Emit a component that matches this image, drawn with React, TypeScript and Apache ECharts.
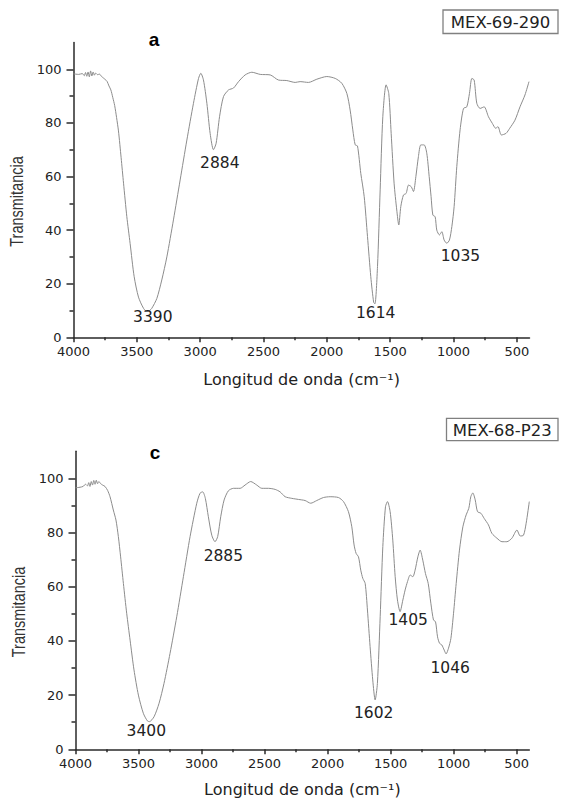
import React, { useEffect, useRef } from "react";
import * as echarts from "echarts";

// ---- data (wavenumber cm-1, transmittance %) ----
const SPECTRUM_A: [number, number][] = [
  [4000, 98.3], [3960, 98.1], [3930, 98.4], [3915, 97.6], [3905, 98.8], [3895, 97.4], [3885, 99.0],
  [3875, 97.2], [3865, 99.4], [3855, 97.5], [3845, 99.0], [3835, 97.8], [3825, 98.6], [3810, 98.0],
  [3795, 98.2], [3780, 97.4], [3765, 96.8], [3750, 96.2], [3735, 95.5], [3720, 93.8], [3705, 92.3],
  [3690, 89.5], [3675, 86.5], [3660, 82.0], [3645, 77.0], [3624, 67], [3605, 57.5], [3579, 45],
  [3553, 35], [3521, 22.6], [3487, 15], [3447, 10.8], [3420, 9.6], [3400, 10.0], [3382, 10.8],
  [3342, 14.5], [3303, 21.4], [3263, 30], [3211, 43.8], [3158, 58.7], [3105, 73.6], [3053, 87.3],
  [3013, 96.6], [2995, 98.5], [2974, 96], [2947, 87.3], [2921, 76], [2895, 70], [2874, 72.4],
  [2847, 82.3], [2816, 89.8], [2776, 92.3], [2737, 93], [2697, 95.4], [2645, 97.9], [2592, 98.9],
  [2526, 98.1], [2447, 97.9], [2382, 96], [2316, 95.8], [2250, 95.1], [2211, 95.4], [2145, 95.1],
  [2079, 96.3], [2000, 97.3], [1934, 96.6], [1882, 94.8], [1842, 91], [1816, 84.8], [1795, 77.4],
  [1776, 71.8], [1758, 71.4], [1732, 61.2], [1705, 52.5], [1679, 37.6], [1653, 22.6], [1630, 13.0],
  [1620, 12.5], [1600, 26.4], [1579, 55], [1558, 82.3], [1532, 94.2], [1511, 91], [1492, 76],
  [1469, 57.5], [1448, 47.5], [1432, 41.9], [1416, 48.8], [1395, 53.1], [1374, 53.7], [1355, 56.8],
  [1334, 56.2], [1316, 54.4], [1297, 60], [1277, 67.4], [1258, 71.8], [1232, 71.8], [1211, 68.7],
  [1192, 60], [1177, 52.5], [1163, 45.6], [1145, 45], [1132, 40], [1111, 38.2], [1092, 39.4],
  [1074, 36.3], [1053, 35.1], [1032, 36.3], [1013, 41.3], [995, 48.8], [974, 63.7], [948, 77.4],
  [921, 85.4], [895, 86], [874, 91], [855, 96.6], [837, 96], [816, 87.3], [790, 85.4], [758, 86],
  [724, 82.3], [693, 79.8], [667, 78], [649, 78.6], [622, 75.5], [585, 76.1], [556, 78], [515, 81],
  [475, 86], [436, 90.4], [404, 95.4],
];

const SPECTRUM_C: [number, number][] = [
  [4000, 96.5], [3964, 96.7], [3940, 97.0], [3920, 97.8], [3905, 97.2], [3895, 98.4], [3885, 97.0],
  [3875, 98.8], [3865, 97.5], [3855, 99.2], [3845, 97.8], [3835, 99.3], [3825, 98.0], [3815, 98.8],
  [3800, 98.0], [3785, 97.5], [3766, 97], [3745, 95.5], [3726, 93.2], [3700, 88.3], [3679, 84.6],
  [3660, 78.5], [3642, 71], [3620, 61.2], [3594, 50.2], [3567, 40.3], [3536, 29.3], [3501, 20],
  [3462, 13.3], [3430, 10.5], [3414, 10.2], [3377, 12], [3337, 17], [3298, 24.3], [3250, 35.4],
  [3197, 48.9], [3144, 63.7], [3091, 78.5], [3038, 90.8], [3012, 94.5], [2991, 95], [2970, 92.6],
  [2946, 85.8], [2919, 79], [2893, 76.6], [2872, 78.5], [2848, 85.8], [2821, 92], [2787, 95.4],
  [2747, 96.3], [2694, 96.3], [2655, 97.5], [2610, 98.8], [2562, 97.5], [2522, 96.3], [2469, 96.3],
  [2416, 95.9], [2377, 95], [2337, 93.2], [2284, 92.6], [2231, 92.2], [2179, 91.8], [2134, 90.8],
  [2086, 91.8], [2033, 92.9], [1980, 93.2], [1914, 92.9], [1874, 91.4], [1835, 87.7], [1808, 82.1],
  [1790, 75.4], [1774, 72.3], [1755, 71], [1737, 66.1], [1721, 63.1], [1702, 61.2], [1684, 51.4],
  [1663, 37.9], [1642, 25.6], [1623, 18.2], [1605, 24.3], [1583, 48.9], [1562, 74.8], [1541, 89.5],
  [1525, 91.4], [1504, 87.7], [1483, 77.2], [1464, 63.7], [1446, 55.1], [1425, 50.8], [1403, 55.1],
  [1385, 58.8], [1366, 61.9], [1345, 64.3], [1324, 63.7], [1306, 66.1], [1284, 71], [1266, 73.5],
  [1245, 69.8], [1224, 64.9], [1202, 61.2], [1181, 53.9], [1160, 47.7], [1144, 47.1], [1128, 41.5],
  [1112, 39.1], [1094, 38.5], [1075, 36.6], [1060, 35.2], [1041, 37.3], [1022, 40.9], [1001, 50.2],
  [980, 61.2], [954, 73.5], [927, 82.1], [901, 86.5], [880, 88.9], [864, 93.2], [848, 94.6],
  [829, 92], [811, 87.7], [784, 87.1], [758, 85.2], [724, 82.8], [697, 79.7], [657, 77.9],
  [617, 76.6], [578, 76.6], [538, 77.9], [498, 80.9], [472, 78.7], [446, 79], [425, 83.4], [400, 91.4],
];

const PEAK_LABELS_A = ["3390", "2884", "1614", "1035"];
const PEAK_AT_A: [number, number][] = [[3374, 7.6], [2845, 65], [1614, 9.25], [945, 30.4]];
const PEAK_LABELS_C = ["3400", "2885", "1602", "1405", "1046"];
const PEAK_AT_C: [number, number][] = [[3438, 6.8], [2827, 71.4], [1635, 13.4], [1361, 47.7], [1028, 30]];

const X_MAJOR = [4000, 3500, 3000, 2500, 2000, 1500, 1000, 500];
const X_MINOR = [3750, 3250, 2750, 2250, 1750, 1250, 750];
const Y_MAJOR = [0, 20, 40, 60, 80, 100];
const Y_MINOR = [10, 30, 50, 70, 90];

const SAMPLE_A = "MEX-69-290";
const SAMPLE_C = "MEX-68-P23";
const PANEL_A = "a";
const PANEL_C = "c";
const X_TITLE = "Longitud de onda (cm\u207B\u00B9)";
const Y_TITLE = "Transmitancia";

const AX = "#2a2a2a";
const TICK_FONT = { fontFamily: "DejaVu Sans", fontSize: 13, color: "#222", formatter: (v: number) => String(v) };

function xAxes(grid: number) {
  const base = {
    gridIndex: grid, type: "value" as const, position: "bottom" as const, offset: 0,
    min: 400, max: 4000, inverse: true, splitLine: { show: false },
  };
  return [
    {
      ...base,
      axisLine: { show: true, onZero: false, lineStyle: { color: AX, width: 1.5 } },
      axisTick: { show: true, customValues: X_MAJOR, length: 5, lineStyle: { color: AX, width: 1.5 } },
      axisLabel: { show: true, customValues: X_MAJOR, margin: 8, ...TICK_FONT },
    },
    {
      ...base,
      axisLine: { show: false, onZero: false },
      axisTick: { show: true, customValues: X_MINOR, length: 3, lineStyle: { color: AX, width: 1.5 } },
      axisLabel: { show: false },
    },
  ];
}

function yAxes(grid: number) {
  const base = {
    gridIndex: grid, type: "value" as const, position: "left" as const, offset: 0,
    min: 0, max: 110, interval: 20, splitLine: { show: false },
  };
  return [
    {
      ...base,
      axisLine: { show: true, onZero: false, lineStyle: { color: AX, width: 1.5 } },
      axisTick: { show: true, customValues: Y_MAJOR, length: 7, lineStyle: { color: AX, width: 1.5 } },
      axisLabel: { show: true, customValues: Y_MAJOR, margin: 12, ...TICK_FONT },
    },
    {
      ...base,
      axisLine: { show: false, onZero: false },
      axisTick: { show: true, customValues: Y_MINOR, length: 4, lineStyle: { color: AX, width: 1.5 } },
      axisLabel: { show: false },
    },
  ];
}

function spectrumSeries(data: [number, number][], axis: number, labels: string[], at: [number, number][]) {
  return {
    type: "line",
    xAxisIndex: axis,
    yAxisIndex: axis,
    data,
    showSymbol: false,
    smooth: 0.25,
    lineStyle: { color: "#8c8c8c", width: 1 },
    markPoint: {
      symbol: "circle",
      symbolSize: 1,
      itemStyle: { color: "rgba(0,0,0,0)" },
      label: { show: true, position: "inside", formatter: "{b}", fontFamily: "DejaVu Sans", fontSize: 15.5, color: "#222" },
      data: labels.map((name, i) => ({ name, coord: at[i] })),
    },
  };
}

function boxedLabel(x: number, y: number, w: number, h: number, text: string) {
  return [
    { type: "rect", shape: { x, y, width: w, height: h }, style: { fill: "#fff", stroke: "#808080", lineWidth: 1.3 } },
    {
      type: "text", x: x + w / 2, y: y + h / 2 + 0.5,
      style: { text, fontFamily: "DejaVu Sans", fontSize: 16.5, fill: "#222", align: "center", verticalAlign: "middle" },
    },
  ];
}

function txt(x: number, y: number, text: string, extra: any = {}, style: any = {}) {
  return {
    type: "text", x, y, ...extra,
    style: { text, align: "center", verticalAlign: "middle", fill: "#222", ...style },
  };
}

export default function App() {
  const ref = useRef<HTMLDivElement>(null);
  useEffect(() => {
    document.body.style.margin = "0";
    const chart = echarts.init(ref.current!, null, { renderer: "svg" });
    chart.setOption({
      animation: false,
      backgroundColor: "#fff",
      grid: [
        { left: 73.5, right: 31.5, top: 42.5, height: 294.8 },
        { left: 75.5, right: 31.7, top: 451.2, height: 298.1 },
      ],
      xAxis: [...xAxes(0), ...xAxes(1)],
      yAxis: [...yAxes(0), ...yAxes(1)],
      series: [
        spectrumSeries(SPECTRUM_A, 0, PEAK_LABELS_A, PEAK_AT_A),
        spectrumSeries(SPECTRUM_C, 2, PEAK_LABELS_C, PEAK_AT_C),
      ],
      graphic: [
        ...boxedLabel(443, 10, 115, 23.5, SAMPLE_A),
        ...boxedLabel(446.5, 418.3, 111.5, 22.4, SAMPLE_C),
        txt(154, 39, PANEL_A, {}, { fontFamily: "Liberation Sans", fontWeight: "bold", fontSize: 19, fill: "#000" }),
        txt(155, 452, PANEL_C, {}, { fontFamily: "Liberation Sans", fontWeight: "bold", fontSize: 19, fill: "#000" }),
        txt(301.6, 379.5, X_TITLE, {}, { fontFamily: "DejaVu Sans", fontSize: 16 }),
        txt(302.4, 789, X_TITLE, {}, { fontFamily: "DejaVu Sans", fontSize: 16 }),
        txt(17, 201.5, Y_TITLE, { rotation: Math.PI / 2, scaleY: 1.3 }, { fontFamily: "Liberation Sans", fontSize: 14.5, fill: "#333" }),
        txt(19, 612, Y_TITLE, { rotation: Math.PI / 2, scaleY: 1.3 }, { fontFamily: "Liberation Sans", fontSize: 14.5, fill: "#333" }),
      ],
    });
    return () => chart.dispose();
  }, []);
  return <div ref={ref} style={{ width: 561, height: 799 }} />;
}
